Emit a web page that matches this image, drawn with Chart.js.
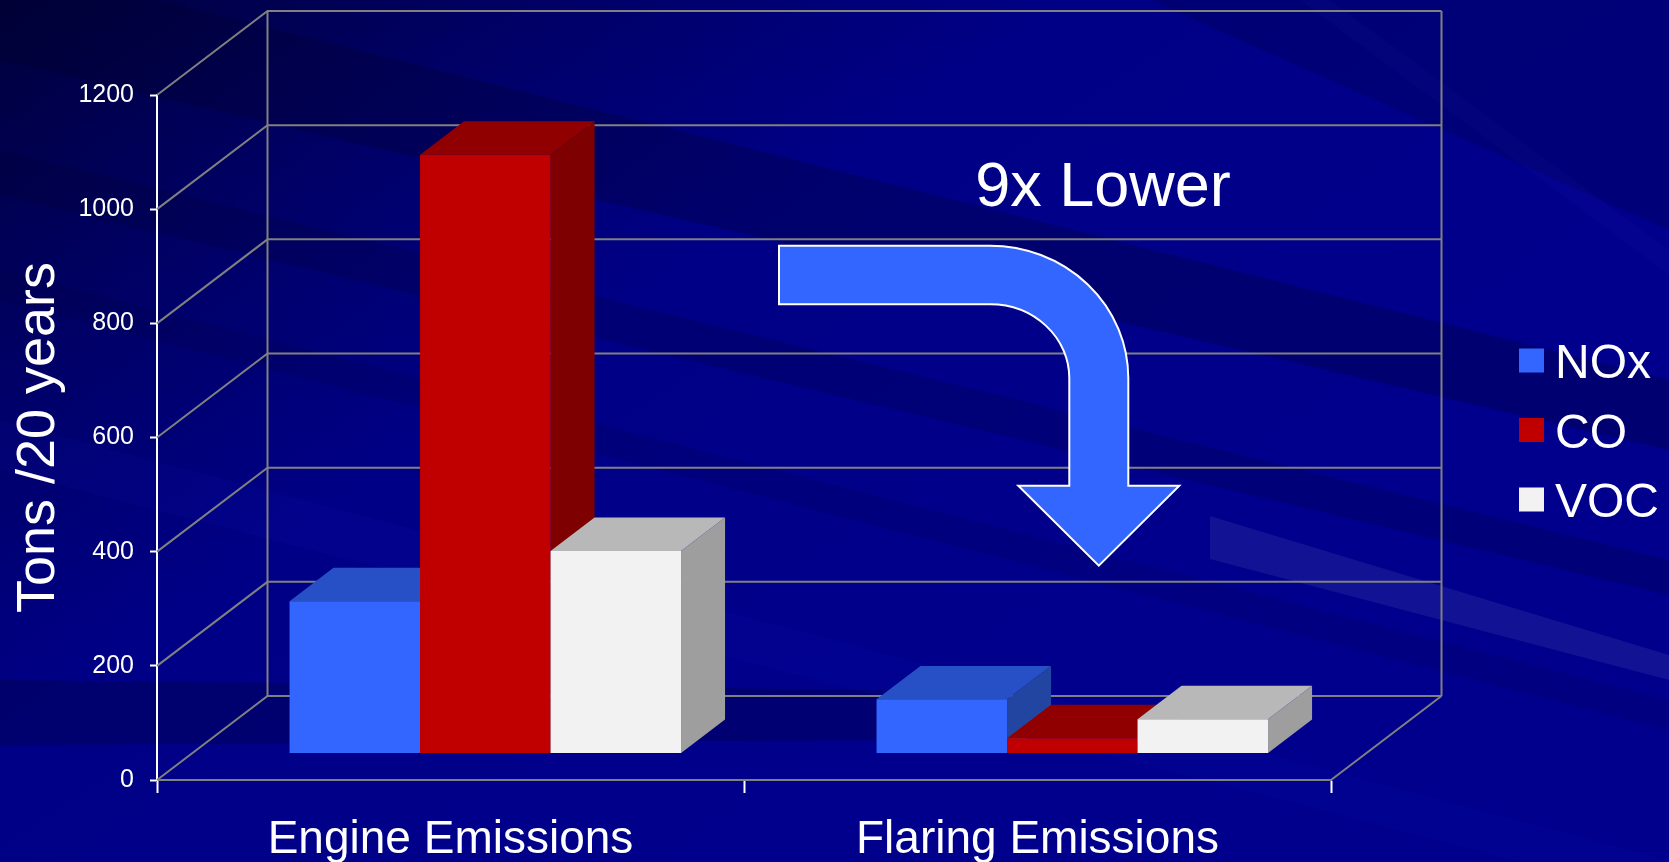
<!DOCTYPE html>
<html>
<head>
<meta charset="utf-8">
<style>
  html, body { margin: 0; padding: 0; background: #000080; overflow: hidden; }
  #wrap { width: 1669px; height: 862px; position: relative; }
  canvas { display: block; }
</style>
<script src="https://cdn.jsdelivr.net/npm/chart.js@4.4.1/dist/chart.umd.min.js"></script>
</head>
<body>
<div id="wrap"><canvas id="chart" width="1669" height="862"></canvas></div>
<script>
// ---- data ----
const categories = ['Engine Emissions', 'Flaring Emissions'];
const seriesNames = ['NOx', 'CO', 'VOC'];
const noxValues = [267, 95];
const coValues = [1049, 27];
const vocValues = [355, 60];
const yTickValues = [0, 200, 400, 600, 800, 1000, 1200];
const yTitle = 'Tons /20 years';
const calloutText = '9x Lower';

// ---- styling ----
const FONT = "'Liberation Sans', Arial, Helvetica, sans-serif";
const frontColors = ['#3366FF', '#C00000', '#F2F2F2'];
const topColors   = ['#2850C6', '#900000', '#B8B8B8'];
const sideColors  = ['#2245A2', '#7E0000', '#9E9E9E'];
const GRID_COLOR = '#808080';

// oblique depth of the box (back wall offset from the front plane)
const DEPTH = { dx: 110.5, dy: -84 };
// bars sit between these fractions of the depth
const BAR_FRONT = 0.315;
const BAR_BACK = 0.713;

function drawBackground(ctx, w, h) {
  const g = ctx.createLinearGradient(0, 0, 620, 900);
  g.addColorStop(0, '#00003C');
  g.addColorStop(0.3, '#000068');
  g.addColorStop(0.55, '#000086');
  g.addColorStop(1, '#00008C');
  ctx.fillStyle = g;
  ctx.fillRect(0, 0, w, h);

  const band = (pts, color) => {
    ctx.beginPath();
    ctx.moveTo(pts[0][0], pts[0][1]);
    for (let i = 1; i < pts.length; i++) ctx.lineTo(pts[i][0], pts[i][1]);
    ctx.closePath();
    ctx.fillStyle = color;
    ctx.fill();
  };
  // darker streaks running down to the right
  band([[0, -40], [1669, 380], [1669, 450], [0, 60]], 'rgba(0,0,40,0.26)');
  band([[0, 150], [1669, 560], [1669, 595], [0, 195]], 'rgba(0,0,40,0.18)');
  band([[0, 270], [1669, 700], [1669, 730], [0, 300]], 'rgba(0,0,40,0.12)');
  band([[0, 680], [900, 690], [900, 740], [0, 745]], 'rgba(0,0,40,0.25)');
  band([[1150, 0], [1669, 0], [1669, 230]], 'rgba(0,0,40,0.18)');
  // lighter streaks
  band([[0, 420], [1669, 860], [1669, 900], [0, 470]], 'rgba(40,40,255,0.05)');
  band([[1300, 0], [1330, 0], [1669, 250], [1669, 275]], 'rgba(80,80,255,0.035)');
  band([[1210, 516], [1669, 655], [1669, 680], [1210, 559]], 'rgba(255,255,255,0.07)');
}

const backdropPlugin = {
  id: 'backdrop',
  beforeDraw(chart) {
    const ctx = chart.ctx;
    ctx.save();
    drawBackground(ctx, chart.width, chart.height);
    ctx.restore();
  }
};

function poly(ctx, pts, fill) {
  ctx.beginPath();
  ctx.moveTo(pts[0][0], pts[0][1]);
  for (let i = 1; i < pts.length; i++) ctx.lineTo(pts[i][0], pts[i][1]);
  ctx.closePath();
  ctx.fillStyle = fill;
  ctx.fill();
}

// Back wall, floor diagonals and extruded bars
const boxPlugin = {
  id: 'box3d',
  beforeDatasetsDraw(chart) {
    const { ctx, chartArea: a, scales: { y } } = chart;
    const { dx, dy } = DEPTH;
    ctx.save();
    ctx.strokeStyle = GRID_COLOR;
    ctx.lineWidth = 2;
    ctx.lineJoin = 'miter';
    yTickValues.forEach(v => {
      const py = y.getPixelForValue(v);
      ctx.beginPath();
      ctx.moveTo(a.left, py);
      ctx.lineTo(a.left + dx, py + dy);
      ctx.lineTo(a.right + dx, py + dy);
      ctx.stroke();
    });
    const y0 = y.getPixelForValue(yTickValues[0]);
    const yTop = y.getPixelForValue(yTickValues[yTickValues.length - 1]);
    ctx.beginPath();
    ctx.moveTo(a.left + dx, y0 + dy);
    ctx.lineTo(a.left + dx, yTop + dy);
    ctx.moveTo(a.right + dx, y0 + dy);
    ctx.lineTo(a.right + dx, yTop + dy);
    ctx.moveTo(a.right, y0);
    ctx.lineTo(a.right + dx, y0 + dy);
    ctx.stroke();

    const fx = dx * BAR_FRONT, fy = dy * BAR_FRONT;
    const bx = dx * (BAR_BACK - BAR_FRONT), by = dy * (BAR_BACK - BAR_FRONT);
    const metas = chart.data.datasets.map((_, i) => chart.getDatasetMeta(i));
    for (let j = 0; j < categories.length; j++) {
      metas.forEach((meta, i) => {
        const el = meta.data[j];
        const p = el.getProps(['x', 'y', 'base', 'width'], true);
        const l = p.x - p.width / 2 + fx, r = p.x + p.width / 2 + fx;
        const t = Math.min(p.y, p.base) + fy, b = Math.max(p.y, p.base) + fy;
        poly(ctx, [[r, t], [r + bx, t + by], [r + bx, b + by], [r, b]], sideColors[i]);
        poly(ctx, [[l, t], [l + bx, t + by], [r + bx, t + by], [r, t]], topColors[i]);
        poly(ctx, [[l, t], [r, t], [r, b], [l, b]], frontColors[i]);
      });
    }
    ctx.restore();
    return false;
  }
};

// Legend, bent arrow and callout text
const overlayPlugin = {
  id: 'overlay',
  afterDraw(chart) {
    const ctx = chart.ctx;
    ctx.save();

    // legend
    const boxX = 1519, boxW = 25, boxH = 24, firstY = 360.5, step = 69.5;
    ctx.font = `48px ${FONT}`;
    ctx.textBaseline = 'alphabetic';
    ctx.textAlign = 'left';
    chart.data.datasets.forEach((ds, i) => {
      const cy = firstY + i * step;
      ctx.fillStyle = ds.backgroundColor;
      ctx.fillRect(boxX, cy - boxH / 2, boxW, boxH);
      ctx.fillStyle = '#FFFFFF';
      ctx.fillText(ds.label, boxX + boxW + 11, cy + 17.8);
    });

    // bent arrow
    const sx = 779, topY = 245.7, botY = 304.3, cx = 990, cyArc = 378;
    const outRx = 1128.3 - cx, outRy = cyArc - topY;
    const inRx = 1069.3 - cx, inRy = cyArc - botY;
    const headY = 485.7, tipY = 565.7, headL = 1018.3, headR = 1179.3;
    ctx.beginPath();
    ctx.moveTo(sx, topY);
    ctx.lineTo(cx, topY);
    ctx.ellipse(cx, cyArc, outRx, outRy, 0, -Math.PI / 2, 0, false);
    ctx.lineTo(cx + outRx, headY);
    ctx.lineTo(headR, headY);
    ctx.lineTo((headL + headR) / 2, tipY);
    ctx.lineTo(headL, headY);
    ctx.lineTo(cx + inRx, headY);
    ctx.lineTo(cx + inRx, cyArc);
    ctx.ellipse(cx, cyArc, inRx, inRy, 0, 0, -Math.PI / 2, true);
    ctx.lineTo(sx, botY);
    ctx.closePath();
    ctx.fillStyle = '#3366FF';
    ctx.fill();
    ctx.strokeStyle = '#FFFFFF';
    ctx.lineWidth = 2;
    ctx.stroke();

    // callout
    ctx.font = `63px ${FONT}`;
    ctx.fillStyle = '#FFFFFF';
    ctx.textAlign = 'center';
    ctx.fillText(calloutText, 1103, 206);
    ctx.restore();
  }
};

const datasets = [noxValues, coValues, vocValues].map((vals, i) => ({
  label: seriesNames[i],
  data: vals,
  backgroundColor: frontColors[i],
  borderWidth: 0,
  categoryPercentage: 0.667,
  barPercentage: 1.0
}));

new Chart(document.getElementById('chart'), {
  type: 'bar',
  data: { labels: categories, datasets },
  plugins: [backdropPlugin, boxPlugin, overlayPlugin],
  options: {
    responsive: false,
    animation: false,
    events: [],
    layout: { padding: { left: 0, top: 95, right: 338, bottom: 0 } },
    plugins: { legend: { display: false }, tooltip: { enabled: false } },
    scales: {
      x: {
        grid: { offset: true, drawOnChartArea: false, drawTicks: true, tickLength: 13, tickColor: '#FFFFFF', tickWidth: 2 },
        border: { display: true, color: GRID_COLOR, width: 2 },
        ticks: { color: '#FFFFFF', font: { size: 46, family: FONT }, padding: 20, maxRotation: 0, autoSkip: false },
        afterFit(s) { s.height = 82; }
      },
      y: {
        min: 0,
        max: 1200,
        afterBuildTicks(s) { s.ticks = yTickValues.map(v => ({ value: v })); },
        grid: { drawOnChartArea: false, drawTicks: true, tickLength: 7, tickColor: '#FFFFFF', tickWidth: 2 },
        border: { display: true, color: '#FFFFFF', width: 2 },
        ticks: { color: '#FFFFFF', font: { size: 25, family: FONT }, padding: 16, callback: v => String(v) },
        title: { display: true, text: yTitle, color: '#FFFFFF', font: { size: 54, family: FONT }, padding: { top: 7, bottom: 0 } },
        afterFit(s) { s.width = 157; }
      }
    }
  }
});
</script>
</body>
</html>
